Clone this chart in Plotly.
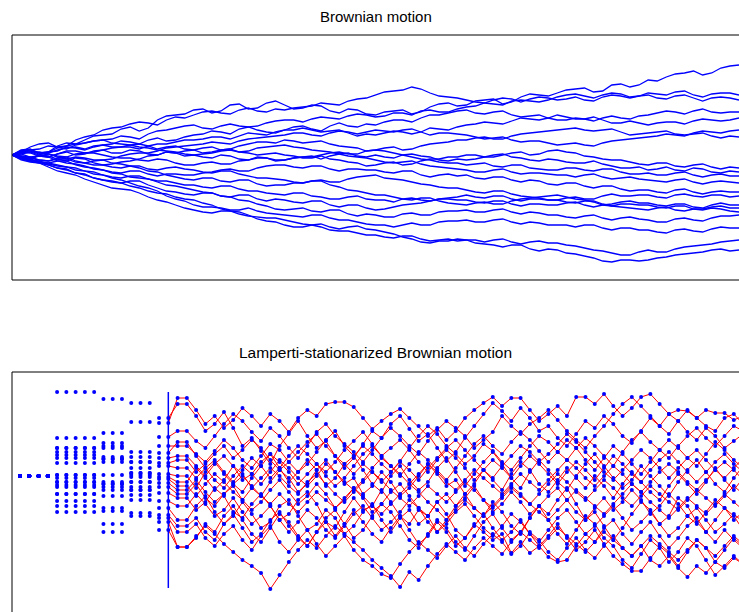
import plotly.graph_objects as go

# ---------------- Top panel: Brownian motion (value 0 = start level, up = positive) ----------------
bm_steps = list(range(81))
bm_01 = [0,5,6,2,3,9,12,11,15,19,20,21,26,28,24,27,35,39,40,41,45,46,42,44,50,51,46,47,52,54,50,46,47,50,49,44,42,46,45,41,40,43,44,45,41,43,48,51,52,49,50,54,55,56,51,53,58,61,60,59,62,65,66,67,63,64,70,71,68,70,75,74,78,81,82,84,80,82,87,89,90]
bm_02 = [0,3,8,11,12,8,9,15,18,20,25,27,28,31,33,32,30,35,38,37,40,43,44,42,41,45,47,44,43,46,45,47,48,49,52,51,50,54,56,57,60,63,64,65,68,66,62,59,58,57,55,53,52,55,57,56,53,56,58,57,55,56,58,55,54,58,60,59,57,59,62,61,60,63,64,60,58,61,62,62,60]
bm_03 = [0,-3,-4,0,3,4,8,7,5,8,10,11,14,13,11,15,17,14,15,18,20,21,24,23,21,26,28,29,32,34,35,35,33,36,38,37,36,39,41,40,38,39,42,42,40,44,45,43,43,46,48,49,52,51,50,54,55,54,53,55,58,60,61,59,57,60,62,61,58,59,60,57,56,59,60,57,54,57,58,57,55]
bm_04 = [0,4,5,6,9,8,6,10,12,14,15,16,19,18,16,21,24,25,27,29,30,27,26,29,31,29,28,25,23,22,25,28,29,26,24,29,32,29,28,31,30,33,35,35,33,37,40,40,42,44,45,42,41,43,44,40,38,39,40,37,35,35,37,36,34,37,39,37,36,39,40,42,44,43,41,44,46,43,42,43,43]
bm_05 = [0,2,3,0,-2,1,4,4,2,3,5,7,8,8,6,9,11,11,13,15,15,16,18,18,16,19,22,21,20,23,25,25,27,25,23,24,25,22,19,21,20,22,24,23,21,23,27,26,25,28,30,31,33,32,31,34,37,36,35,37,40,38,36,36,38,35,32,32,34,32,30,32,33,33,31,34,36,35,34,35,37]
bm_06 = [0,-1,-3,-5,-6,-3,-2,-6,-8,-6,-5,-4,-1,1,2,2,4,7,8,9,10,11,13,12,11,14,16,17,18,19,20,22,22,20,19,22,24,23,21,23,25,24,23,25,26,23,20,22,22,21,20,18,16,17,18,15,13,14,14,12,10,11,12,10,9,12,14,15,16,17,18,19,21,20,19,22,24,23,22,24,25]
bm_07 = [0,3,4,1,2,5,7,8,6,9,10,8,8,10,11,9,6,8,9,6,5,7,8,5,6,9,11,13,13,12,15,14,12,13,14,11,9,8,7,4,5,7,8,5,6,9,11,12,13,15,15,17,18,16,16,19,21,22,23,24,25,26,27,25,24,25,26,23,20,21,22,23,24,21,20,21,22,19,17,19,18]
bm_08 = [0,3,2,-1,-2,1,3,0,1,4,5,2,2,5,4,1,0,3,2,-1,0,-2,-3,0,-1,-4,-5,-2,-3,-6,-5,-3,-2,-1,-4,-1,1,2,-1,-2,0,-2,-3,0,1,-1,-2,-5,-6,-4,-5,-4,-2,-2,0,2,3,0,1,4,5,3,2,-1,-2,-4,-5,-5,-7,-9,-10,-8,-8,-11,-12,-10,-9,-12,-14,-12,-13]
bm_09 = [0,-2,-3,0,-1,-4,-6,-3,-4,-8,-10,-9,-7,-6,-4,-1,0,3,2,4,5,2,3,5,6,3,2,0,1,2,0,-1,-3,-3,-1,-4,-5,-7,-8,-11,-10,-8,-7,-10,-9,-6,-4,-4,-2,-2,0,0,-2,0,1,-2,-3,-5,-6,-4,-5,-7,-8,-8,-6,-9,-11,-13,-13,-12,-15,-14,-12,-15,-16,-13,-14,-17,-18,-16,-17]
bm_10 = [0,1,3,3,1,-1,-2,1,2,2,0,-2,-3,-3,-5,-6,-4,-5,-8,-10,-10,-8,-7,-9,-9,-6,-5,-3,-3,-5,-5,-3,-2,-2,0,2,3,1,1,4,5,4,2,0,-2,-4,-5,-7,-8,-8,-10,-9,-8,-11,-12,-10,-10,-13,-14,-15,-15,-13,-13,-15,-16,-14,-14,-17,-19,-19,-18,-20,-20,-18,-17,-20,-22,-20,-19,-21,-21]
bm_11 = [0,4,5,2,3,7,9,11,12,14,15,12,11,10,8,7,5,4,3,1,0,1,2,4,5,3,4,7,8,9,10,8,7,5,4,3,1,-1,-2,-3,-5,-7,-8,-7,-6,-9,-11,-12,-13,-14,-15,-17,-17,-15,-14,-17,-19,-18,-18,-19,-20,-20,-22,-20,-19,-22,-24,-23,-22,-24,-25,-26,-27,-25,-24,-27,-29,-27,-26,-27,-28]
bm_12 = [0,-3,-4,-7,-8,-6,-6,-10,-12,-13,-15,-17,-18,-16,-16,-19,-21,-19,-19,-20,-20,-18,-17,-15,-14,-16,-16,-13,-11,-10,-10,-12,-13,-11,-11,-14,-16,-14,-14,-15,-15,-17,-18,-16,-16,-20,-22,-20,-19,-21,-20,-23,-24,-22,-22,-25,-27,-25,-26,-29,-30,-28,-28,-31,-33,-31,-31,-34,-36,-35,-35,-37,-38,-35,-34,-37,-39,-37,-36,-37,-37]
bm_13 = [0,1,-2,-1,1,-2,-4,-2,-3,-5,-5,-8,-9,-11,-13,-16,-17,-20,-22,-24,-25,-23,-23,-26,-27,-25,-25,-29,-31,-30,-30,-28,-28,-26,-25,-27,-27,-24,-22,-21,-20,-23,-24,-25,-27,-29,-30,-32,-33,-33,-35,-37,-38,-36,-36,-39,-41,-42,-43,-45,-45,-43,-42,-44,-44,-41,-39,-41,-41,-40,-40,-42,-43,-40,-39,-41,-42,-40,-40,-42,-41]
bm_14 = [0,-3,-5,-6,-9,-11,-12,-13,-16,-19,-20,-22,-23,-21,-21,-24,-26,-26,-28,-30,-30,-32,-33,-31,-31,-34,-36,-36,-38,-39,-40,-38,-38,-41,-42,-44,-44,-42,-41,-44,-45,-45,-47,-44,-43,-45,-46,-44,-44,-45,-45,-47,-48,-46,-46,-49,-51,-49,-49,-50,-50,-48,-47,-50,-52,-50,-49,-47,-46,-48,-48,-50,-51,-49,-49,-52,-53,-50,-48,-50,-50]
bm_15 = [0,-1,-2,-5,-6,-4,-4,-7,-8,-10,-10,-12,-13,-11,-11,-14,-15,-13,-12,-14,-15,-17,-18,-16,-16,-19,-21,-23,-23,-24,-25,-27,-28,-26,-26,-30,-32,-35,-36,-38,-40,-40,-42,-44,-45,-43,-43,-46,-48,-49,-50,-48,-47,-49,-49,-46,-44,-43,-42,-41,-40,-42,-44,-45,-47,-50,-51,-52,-53,-54,-55,-53,-52,-55,-56,-54,-54,-52,-51,-53,-53]
bm_16 = [0,-4,-6,-7,-10,-13,-15,-18,-19,-23,-25,-27,-28,-26,-26,-30,-33,-36,-37,-39,-40,-38,-38,-41,-42,-40,-40,-44,-46,-44,-45,-47,-48,-46,-46,-50,-52,-50,-50,-53,-55,-54,-52,-50,-49,-48,-46,-44,-43,-42,-40,-42,-43,-41,-41,-44,-46,-44,-44,-45,-45,-47,-48,-46,-46,-49,-51,-49,-49,-50,-50,-52,-53,-51,-51,-54,-55,-53,-54,-56,-57]
bm_17 = [0,-3,-4,-1,-2,-6,-8,-9,-11,-14,-15,-18,-19,-22,-23,-24,-27,-30,-31,-33,-35,-37,-38,-41,-42,-45,-46,-49,-51,-54,-55,-54,-53,-56,-57,-55,-55,-59,-61,-59,-60,-62,-62,-59,-58,-60,-60,-57,-56,-56,-55,-57,-57,-55,-54,-57,-59,-57,-58,-60,-60,-62,-63,-61,-60,-63,-65,-63,-62,-64,-65,-67,-67,-64,-63,-65,-66,-63,-61,-61,-60]
bm_18 = [0,-2,-5,-7,-8,-10,-12,-15,-16,-17,-20,-23,-25,-28,-31,-33,-36,-41,-44,-46,-50,-52,-52,-53,-55,-55,-53,-56,-58,-59,-60,-61,-62,-60,-60,-63,-65,-65,-67,-69,-70,-70,-72,-70,-68,-70,-70,-67,-66,-66,-65,-67,-67,-65,-64,-67,-69,-67,-68,-70,-70,-70,-72,-70,-70,-73,-75,-73,-73,-75,-75,-77,-78,-75,-74,-76,-77,-74,-72,-73,-73]
bm_19 = [0,-4,-6,-8,-12,-16,-18,-20,-24,-27,-30,-33,-34,-35,-38,-42,-45,-47,-50,-53,-55,-57,-58,-56,-56,-59,-61,-62,-63,-63,-65,-67,-69,-70,-72,-75,-76,-76,-78,-80,-80,-82,-83,-81,-81,-84,-86,-85,-84,-86,-85,-85,-87,-85,-84,-87,-89,-87,-86,-88,-88,-90,-91,-93,-95,-96,-98,-100,-100,-97,-95,-97,-97,-94,-92,-91,-90,-89,-87,-86,-85]
bm_20 = [0,-5,-7,-8,-10,-13,-14,-18,-20,-23,-25,-26,-28,-31,-33,-36,-38,-39,-42,-44,-45,-48,-50,-54,-56,-57,-60,-64,-66,-67,-70,-72,-72,-70,-69,-72,-74,-72,-71,-74,-75,-77,-79,-82,-84,-87,-88,-86,-86,-84,-85,-88,-89,-90,-92,-90,-90,-94,-96,-94,-95,-98,-99,-101,-103,-106,-107,-105,-105,-106,-105,-103,-102,-100,-99,-98,-97,-95,-94,-96,-95]
bm_paths = [bm_01, bm_02, bm_03, bm_04, bm_05, bm_06, bm_07, bm_08, bm_09, bm_10,
            bm_11, bm_12, bm_13, bm_14, bm_15, bm_16, bm_17, bm_18, bm_19, bm_20]

# ---------------- Bottom panel: Lamperti-stationarized (log-time columns) ----------------
lam_cols_0 = [0, 1, 2, 3]
lam_cols_1 = [4, 5, 6, 7, 8]
lam_cols_2 = [9, 10, 11]
lam_cols_3 = [12, 13, 14]
lam_cols_4 = [15]
lam_level_1 = [84, 38, 28, 28, 24, 21, 18, 13, 1, 1, -2, -6, -6, -9, -11, -18, -18, -25, -30, -36]
lam_level_2 = [77, 43, 33, 30, 28, 19, 17, 17, 14, 1, -6, -8, -8, -11, -14, -20, -32, -35, -48, -56]
lam_level_3 = [73, 54, 24, 19, 14, 14, 8, 3, 3, 1, -1, -6, -6, -11, -14, -14, -19, -24, -37, -40]
lam_level_4 = [58, 53, 39, 30, 23, 18, 13, 10, 2, -1, -3, -7, -11, -17, -25, -32, -39, -42, -46, -54]
lam_marker_column = 16
lam_marker_span = [84, -112]

lam_cols = list(range(16, 79))
ls_01 = [58, 72, 72, 60, 45, 52, 64, 48, 30, 38, 25, 12, 30, 42, 55, 40, 28, 35, 20, 8, 18, 32, 45, 38, 52, 60, 47, 35, 42, 28, 15, 24, 38, 50, 62, 73, 65, 55, 68, 58, 45, 50, 38, 30, 42, 55, 48, 60, 52, 40, 33, 45, 58, 50, 62, 55, 44, 36, 48, 40, 28, 35, 42]
ls_02 = [53, 78, 78, 66, 52, 60, 48, 56, 68, 60, 50, 62, 55, 44, 58, 66, 60, 72, 74, 74, 69, 58, 47, 55, 62, 67, 58, 50, 40, 48, 36, 45, 58, 66, 73, 79, 70, 78, 78, 66, 55, 62, 70, 60, 79, 79, 72, 82, 70, 60, 68, 79, 82, 72, 62, 66, 65, 58, 66, 63, 63, 56, 60]
ls_03 = [39, 45, 45, 35, 28, 40, 52, 62, 55, 44, 35, 48, 40, 28, 18, 30, 44, 52, 40, 32, 24, 14, 26, 38, 48, 40, 30, 22, 35, 46, 55, 48, 40, 28, 36, 44, 60, 50, 42, 52, 58, 66, 56, 45, 36, 28, 40, 50, 62, 72, 79, 70, 60, 50, 42, 55, 66, 58, 50, 45, 58, 62, 52]
ls_04 = [30, 30, 30, 22, 14, 25, 36, 28, 16, 8, 20, 32, 26, 14, 4, 12, 24, 36, 45, 30, 20, 30, 22, 12, 4, 15, 28, 40, 50, 42, 30, 22, 12, 20, 32, 25, 14, 6, 18, 30, 40, 34, 24, 16, 28, 38, 30, 20, 10, 24, 36, 44, 34, 26, 18, 30, 40, 48, 38, 30, 40, 50, 45]
ls_05 = [23, 34, 34, 20, 8, 16, 4, -6, 6, 18, 10, -2, 8, 20, 30, 22, 12, 4, 14, 26, 35, 44, 32, 20, 10, 0, 12, 24, 16, 6, -4, 8, 20, 32, 40, 30, 22, 34, 44, 36, 25, 14, 24, 36, 28, 16, 6, 18, 30, 22, 12, 2, 14, 26, 36, 28, 18, 10, 22, 34, 26, 16, 8]
ls_06 = [18, 20, 20, 10, 0, 12, 20, 10, -4, 2, 14, 22, 14, 4, -8, 2, 12, 0, -10, -2, 10, 22, 30, 20, 28, 36, 26, 14, 4, 16, 26, 18, 8, -4, 6, 16, 8, -2, 10, 20, 12, 2, -8, 4, 14, 6, -4, 8, 20, 12, 2, -6, 6, 16, 24, 14, 4, -6, 4, 14, 22, 12, 4]
ls_07 = [13, 16, 16, 4, 12, 22, 30, 18, 26, 36, 28, 16, 6, 14, 24, 34, 42, 30, 20, 12, 2, 12, 4, -6, 4, 14, 6, -4, 8, 18, 28, 36, 26, 16, 6, -2, 10, 20, 30, 24, 14, 22, 32, 42, 34, 24, 14, 4, -4, 6, 16, 26, 18, 8, -2, 8, 18, 26, 16, 6, -2, 8, 18]
ls_08 = [10, 8, 8, -2, 8, -4, -12, 0, 10, 2, -8, 4, 16, 8, -2, -10, 0, 12, 4, -6, -14, -4, 8, 18, 10, 2, -8, 2, 12, 4, -6, -14, -4, 6, -2, -10, -18, -8, 2, -6, -14, -4, 6, 16, 8, -2, -10, 0, 10, 2, -8, -16, -6, 4, 12, 4, -6, -14, -4, 6, 14, 6, -4]
ls_09 = [2, 0, 0, -12, 4, 14, 2, -8, -16, -2, 10, 22, 8, -6, 4, 16, 6, -10, -2, 12, 20, 6, -8, -16, 0, 10, -4, -14, -6, 8, 18, 4, -10, 2, 14, 24, 12, -2, -12, 4, 16, 6, -6, -14, 0, 12, 22, 10, -2, -12, -4, 10, 0, -10, -20, -6, 6, 16, 4, -8, -16, -2, 10]
ls_10 = [-1, -6, -6, 8, -2, -14, -4, 10, 2, -12, -20, -6, 6, -2, -16, -8, 6, 16, 4, -8, -2, -18, -10, 4, -6, -20, -12, 0, 12, 2, -10, -4, -18, -8, 6, -4, -14, 2, 14, 6, -8, -16, -4, 8, -2, -12, 0, -10, -22, -8, 4, -6, -16, -24, -10, 2, -8, -18, -6, 8, -4, -14, -2]
ls_11 = [-3, -10, -10, -20, -8, 2, -6, -16, -24, -12, -2, 8, 0, -10, -18, -6, 2, -8, -18, -26, -16, -6, 4, -4, -14, -22, -30, -20, -10, -18, -26, -16, -6, -14, -24, -32, -22, -12, -20, -28, -18, -8, 2, -6, -16, -24, -14, -4, -12, -22, -30, -20, -10, -18, -26, -34, -24, -14, -22, -30, -20, -10, -18]
ls_12 = [-7, -14, -14, -4, -16, -26, -18, -8, 0, -10, -20, -28, -18, -28, -36, -26, -16, -24, -32, -22, -12, -20, -30, -38, -28, -18, -8, -16, -26, -34, -44, -34, -24, -32, -40, -30, -20, -10, -18, -28, -36, -44, -34, -24, -14, -22, -30, -38, -28, -18, -8, -16, -26, -34, -42, -32, -22, -30, -38, -28, -18, -26, -34]
ls_13 = [-11, -18, -18, -8, -22, -30, -18, -10, -24, -34, -26, -14, -4, -16, -28, -20, -8, -18, -32, -24, -12, -22, -36, -28, -16, -8, -20, -32, -40, -26, -18, -30, -22, -10, -24, -36, -28, -16, -26, -38, -30, -20, -12, -24, -36, -44, -32, -22, -34, -26, -14, -24, -38, -30, -18, -28, -40, -48, -36, -24, -32, -44, -36]
ls_14 = [-17, -22, -22, -34, -26, -12, -20, -36, -42, -28, -18, -30, -44, -38, -24, -16, -28, -46, -52, -36, -22, -34, -30, -14, -26, -40, -48, -34, -40, -56, -44, -30, -18, -32, -40, -26, -36, -50, -58, -42, -30, -38, -24, -12, -28, -44, -36, -50, -64, -52, -38, -26, -34, -48, -40, -22, -30, -46, -56, -44, -32, -40, -54]
ls_15 = [-25, -30, -30, -18, -28, -40, -34, -22, -36, -48, -40, -30, -44, -56, -46, -34, -42, -54, -62, -50, -38, -30, -42, -54, -46, -36, -24, -32, -46, -56, -48, -36, -28, -40, -52, -60, -50, -38, -46, -58, -66, -54, -42, -34, -46, -58, -50, -40, -30, -42, -54, -46, -36, -48, -60, -52, -40, -32, -44, -56, -48, -38, -46]
ls_16 = [-32, -44, -44, -30, -20, -36, -48, -40, -26, -38, -52, -46, -30, -24, -40, -54, -48, -34, -42, -58, -50, -36, -28, -44, -56, -42, -34, -48, -40, -26, -38, -54, -62, -48, -56, -64, -58, -77, -66, -77, -70, -81, -86, -84, -70, -58, -66, -52, -44, -58, -68, -56, -46, -60, -72, -62, -50, -42, -56, -66, -54, -64, -72]
ls_17 = [-39, -50, -50, -42, -56, -64, -48, -38, -52, -66, -58, -44, -36, -50, -62, -70, -56, -46, -60, -48, -34, -46, -58, -66, -52, -40, -54, -68, -60, -46, -56, -70, -62, -50, -38, -52, -64, -56, -44, -58, -70, -60, -48, -62, -74, -66, -54, -68, -80, -88, -95, -95, -82, -70, -78, -90, -76, -64, -72, -86, -74, -62, -70]
ls_18 = [-42, -56, -56, -48, -62, -70, -58, -50, -64, -74, -60, -50, -66, -76, -64, -54, -68, -80, -70, -60, -74, -84, -90, -98, -102, -88, -76, -66, -74, -82, -70, -60, -72, -80, -68, -58, -66, -78, -70, -56, -64, -76, -84, -72, -62, -74, -82, -70, -60, -72, -80, -70, -84, -90, -80, -92, -101, -90, -97, -86, -92, -82, -88]
ls_19 = [-46, -71, -71, -60, -50, -58, -68, -76, -84, -90, -97, -113, -99, -86, -74, -64, -72, -60, -50, -58, -66, -74, -84, -92, -100, -111, -96, -104, -90, -78, -68, -76, -84, -72, -62, -70, -78, -66, -56, -64, -72, -62, -52, -60, -68, -76, -66, -56, -64, -72, -80, -70, -60, -68, -76, -84, -74, -64, -72, -80, -70, -60, -68]
ls_20 = [-54, -71, -71, -62, -48, -56, -40, -30, -44, -58, -66, -52, -38, -46, -60, -70, -56, -42, -34, -48, -62, -54, -40, -28, -36, -50, -64, -72, -58, -44, -52, -66, -74, -60, -46, -38, -52, -64, -56, -42, -30, -44, -58, -68, -54, -40, -48, -62, -70, -84, -92, -78, -64, -72, -86, -76, -62, -70, -84, -99, -90, -80, -88]
ls_paths = [ls_01, ls_02, ls_03, ls_04, ls_05, ls_06, ls_07, ls_08, ls_09, ls_10,
            ls_11, ls_12, ls_13, ls_14, ls_15, ls_16, ls_17, ls_18, ls_19, ls_20]

BLUE = "#0000FF"
RED = "#FF0000"

fig = go.Figure()

for p in bm_paths:
    fig.add_trace(go.Scatter(x=bm_steps[:len(p)], y=p, mode="lines", xaxis="x", yaxis="y",
                             line=dict(color=BLUE, width=1.3), hoverinfo="skip", showlegend=False))

for p in ls_paths:
    fig.add_trace(go.Scatter(x=lam_cols[:len(p)], y=p, mode="lines", xaxis="x2", yaxis="y2",
                             line=dict(color=RED, width=1), hoverinfo="skip", showlegend=False))

fig.add_trace(go.Scatter(x=[lam_marker_column, lam_marker_column], y=lam_marker_span, mode="lines",
                         xaxis="x2", yaxis="y2", line=dict(color=BLUE, width=1.5),
                         hoverinfo="skip", showlegend=False))

mx, my = [], []
for c in lam_cols_0:
    for _ in range(len(ls_paths)):
        mx.append(c); my.append(0)
for cols, lev in ((lam_cols_1, lam_level_1), (lam_cols_2, lam_level_2),
                  (lam_cols_3, lam_level_3), (lam_cols_4, lam_level_4)):
    for c in cols:
        for v in lev:
            mx.append(c); my.append(v)
for p in ls_paths:
    mx.extend(lam_cols[:len(p)]); my.extend(p)
fig.add_trace(go.Scatter(x=mx, y=my, mode="markers", xaxis="x2", yaxis="y2",
                         marker=dict(color=BLUE, size=4, line=dict(width=0)),
                         hoverinfo="skip", showlegend=False))

H = 612.0
top_dom = [1 - 280 / H, 1 - 35 / H]
bot_dom = [0, 1 - 372 / H]
axis_common = dict(showgrid=False, zeroline=False, showticklabels=False, ticks="", showline=False)

fig.update_layout(
    width=739, height=612,
    margin=dict(l=12, r=0, t=0, b=0),
    paper_bgcolor="white", plot_bgcolor="white",
    font=dict(family="Liberation Sans, Arial, sans-serif", color="#000000"),
    xaxis=dict(domain=[0, 1], range=[0, 80], anchor="y", **axis_common),
    yaxis=dict(domain=top_dom, range=[-125, 120], anchor="x", **axis_common),
    xaxis2=dict(domain=[0, 1], range=[-0.863, 77.56], anchor="y2", **axis_common),
    yaxis2=dict(domain=bot_dom, range=[-136, 104], anchor="x2", **axis_common),
    showlegend=False,
)

border = dict(color="black", width=1)
fig.update_layout(shapes=[
    dict(type="line", xref="x domain", yref="y domain", x0=0, x1=1, y0=1, y1=1, line=border),
    dict(type="line", xref="x domain", yref="y domain", x0=0, x1=1, y0=0, y1=0, line=border),
    dict(type="line", xref="x domain", yref="y domain", x0=0, x1=0, y0=0, y1=1, line=border),
    dict(type="line", xref="x2 domain", yref="y2 domain", x0=0, x1=1, y0=1, y1=1, line=border),
    dict(type="line", xref="x2 domain", yref="y2 domain", x0=0, x1=0, y0=0, y1=1, line=border),
])

fig.add_annotation(text="Brownian motion", xref="paper", yref="paper", x=0.5, y=1 - 16 / H,
                   showarrow=False, font=dict(size=15, color="#000000"), xanchor="center", yanchor="middle")
fig.add_annotation(text="Lamperti-stationarized Brownian motion", xref="paper", yref="paper",
                   x=0.5, y=1 - 352 / H, showarrow=False, font=dict(size=15.5, color="#000000"),
                   xanchor="center", yanchor="middle")

fig.write_html("out.html",
               config={"displayModeBar": False, "staticPlot": True},
               post_script="document.body.style.margin='0';"
                           "document.body.style.overflow='hidden';"
                           "document.documentElement.style.overflow='hidden';")
